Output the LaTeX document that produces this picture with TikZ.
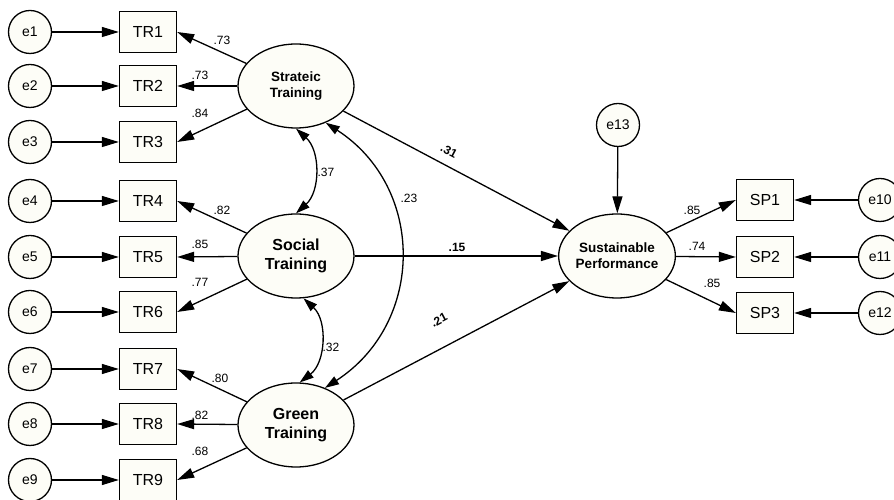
\documentclass[tikz,border=0pt]{standalone}
\usepackage{fontspec}
\setmainfont{Liberation Sans}
\usepackage{tikz}
\usetikzlibrary{shapes.geometric,arrows.meta}
\definecolor{nodebg}{RGB}{253,253,247}

\begin{document}
\begin{tikzpicture}[x=1pt,y=1pt,
  every path/.style={line width=1.3pt},
  err/.style={circle,draw,fill=nodebg,minimum size=43pt,inner sep=0pt,font=\fontsize{14}{14}\selectfont},
  ind/.style={rectangle,draw,fill=nodebg,minimum width=57pt,minimum height=41pt,inner sep=0pt,font=\fontsize{16}{16}\selectfont},
  lat/.style={ellipse,draw,fill=nodebg,minimum width=116pt,minimum height=84pt,inner sep=0pt,align=center},
  arr/.style={-{Triangle[length=17pt,width=10pt]}},
  cov/.style={{Triangle[length=14pt,width=9pt]}-{Triangle[length=14pt,width=9pt]}},
  lab/.style={font=\fontsize{12}{12}\selectfont,inner sep=1pt},
  coef/.style={font=\bfseries\fontsize{12}{12}\selectfont,inner sep=1pt}]
  \useasboundingbox (0,0) rectangle (894,500);
  % latent factors
  \node[lat,font=\bfseries\fontsize{13.5}{16}\selectfont] (st) at (296,414) {Strateic\\Training};
  \node[lat,font=\bfseries\fontsize{16}{19}\selectfont] (so) at (296,244) {Social\\Training};
  \node[lat,font=\bfseries\fontsize{16}{19}\selectfont] (gr) at (296,75) {Green\\Training};
  \node[lat,font=\bfseries\fontsize{13.5}{16}\selectfont] (sp) at (617,244) {Sustainable\\Performance};
  % training indicators with their errors
  \foreach \i/\y in {1/468,2/414,3/358,4/299,5/243,6/188,7/131,8/76,9/20} {
    \node[err] (e\i) at (30,\y) {e\i};
    \node[ind] (tr\i) at (148,\y) {TR\i};
    \draw[arr] (e\i) -- (tr\i);
  }
  \foreach \f/\i/\v/\x/\y in {st/1/.73/222/460,st/2/.73/200/425,st/3/.84/200/387,
                             so/4/.82/222/290,so/5/.85/200/256,so/6/.77/200/218,
                             gr/7/.80/220/122,gr/8/.82/200/85,gr/9/.68/200/49} {
    \draw[arr] (\f) -- (tr\i.east);
    \node[lab] (l\i) at (\x,\y) {\v};
  }
  % performance indicators
  \node[err] (e13) at (618,375) {e13};
  \draw[arr] (e13) -- (sp);
  \foreach \i/\e/\y/\v/\x/\ly in {1/10/300/.85/692/290,2/11/243/.74/697/254,3/12/187/.85/712/217} {
    \node[ind] (sp\i) at (765,\y) {SP\i};
    \node[err] (e\e) at (880,\y) {e\e};
    \draw[arr] (e\e) -- (sp\i);
    \draw[arr] (sp) -- (sp\i.west);
    \node[lab] (m\i) at (\x,\ly) {\v};
  }
  % covariances
  \draw[cov] (st.south) to[bend left=48] (so.north);
  \draw[cov] (so.-80) to[bend left=50] (gr.85);
  \draw[cov] (st.-51) .. controls +(100,-65) and +(100,65) .. (gr.52);
  \node[lab] (c1) at (326,328) {.37};
  \node[lab] (c2) at (409,302) {.23};
  \node[lab] (c3) at (331,153) {.32};
  % structural paths
  \draw[arr] (st) -- (sp);
  \draw[arr] (so) -- (sp);
  \draw[arr] (gr) -- (sp);
  \node[coef,rotate=-28] (p1) at (449,349) {.31};
  \node[coef] (p2) at (457,253) {.15};
  \node[coef,rotate=28] (p3) at (439,180) {.21};
\end{tikzpicture}
\end{document}
